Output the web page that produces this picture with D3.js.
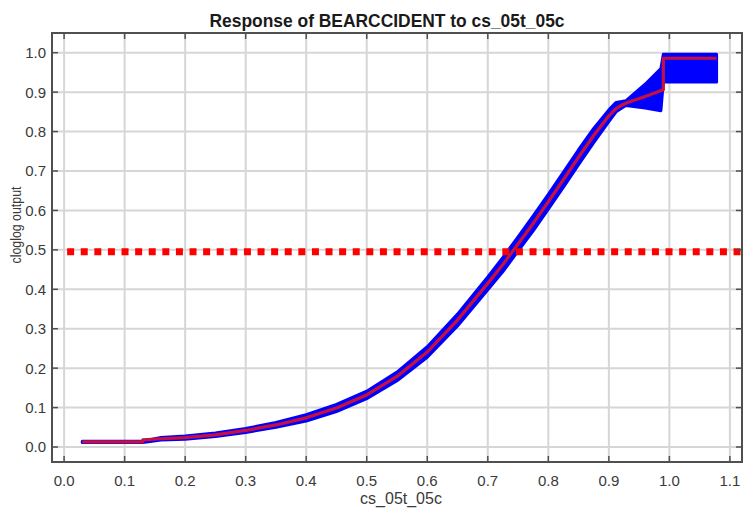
<!DOCTYPE html>
<html>
<head>
<meta charset="utf-8">
<script src="https://cdn.jsdelivr.net/npm/d3@7"></script>
<style>
  html, body { margin: 0; padding: 0; background: #ffffff; }
  svg { display: block; }
  text { font-family: "Liberation Sans", Arial, sans-serif; }
</style>
</head>
<body>
<svg id="chart" width="745" height="510"></svg>
<script>
// Fitted response curve (x = cs_05t_05c, y = cloglog output)
const fitX = [0.03, 0.13, 0.13, 0.16, 0.2, 0.25, 0.3, 0.35, 0.4, 0.45, 0.5, 0.55, 0.6, 0.65, 0.7, 0.725, 0.75, 0.775, 0.8, 0.825, 0.85, 0.875, 0.9, 0.912, 0.92, 0.93, 0.96, 0.99, 0.99, 1.078];
const fitY = [0.013, 0.013, 0.018, 0.021, 0.024, 0.031, 0.042, 0.056, 0.074, 0.099, 0.132, 0.179, 0.241, 0.322, 0.415, 0.463, 0.515, 0.567, 0.622, 0.678, 0.735, 0.79, 0.84, 0.858, 0.866, 0.873, 0.889, 0.906, 0.986, 0.986];

// Confidence band around the fitted curve
const bandX  = [0.03, 0.13, 0.16, 0.2, 0.25, 0.3, 0.35, 0.4, 0.45, 0.5, 0.55, 0.6, 0.65, 0.7, 0.725, 0.75, 0.775, 0.8, 0.825, 0.85, 0.875, 0.9, 0.912, 0.928, 0.96, 0.986, 0.99, 1.078];
const bandLo = [0.0115, 0.0115, 0.018, 0.020, 0.0265, 0.037, 0.050, 0.066, 0.090, 0.1225, 0.168, 0.2275, 0.307, 0.3985, 0.445, 0.497, 0.548, 0.603, 0.659, 0.716, 0.772, 0.825, 0.850, 0.866, 0.860, 0.853, 0.926, 0.926];
const bandHi = [0.0145, 0.0145, 0.024, 0.028, 0.0355, 0.047, 0.062, 0.082, 0.108, 0.1415, 0.190, 0.2545, 0.337, 0.4315, 0.481, 0.533, 0.586, 0.641, 0.697, 0.754, 0.808, 0.855, 0.874, 0.878, 0.920, 0.960, 0.996, 0.996];

// Threshold line
const threshold = 0.495;

// Axis ticks
const xTicks = [0.0, 0.1, 0.2, 0.3, 0.4, 0.5, 0.6, 0.7, 0.8, 0.9, 1.0, 1.1];
const yTicks = [0.0, 0.1, 0.2, 0.3, 0.4, 0.5, 0.6, 0.7, 0.8, 0.9, 1.0];

const titleText = "Response of BEARCCIDENT to cs_05t_05c";
const xLabelText = "cs_05t_05c";
const yLabelText = "cloglog output";

const svg = d3.select("#chart");
const pLeft = 52, pRight = 742, pTop = 33, pBottom = 462;

const x = d3.scaleLinear().domain([-0.02, 1.12]).range([pLeft, pRight]);
const y = d3.scaleLinear().domain([-0.038, 1.05]).range([pBottom, pTop]);

// Grid
const grid = svg.append("g").attr("stroke", "#d6d6d6").attr("stroke-width", 2);
grid.selectAll("line.vx").data(xTicks).join("line")
  .attr("x1", d => x(d)).attr("x2", d => x(d))
  .attr("y1", pTop).attr("y2", pBottom);
grid.selectAll("line.hy").data(yTicks).join("line")
  .attr("x1", pLeft).attr("x2", pRight)
  .attr("y1", d => y(d)).attr("y2", d => y(d));

svg.append("clipPath").attr("id", "plotclip")
  .append("rect").attr("x", pLeft).attr("y", pTop)
  .attr("width", pRight - pLeft).attr("height", pBottom - pTop);

const plot = svg.append("g").attr("clip-path", "url(#plotclip)");

// Band
const bandData = bandX.map((v, i) => ({ x: v, lo: bandLo[i], hi: bandHi[i] }));
const area = d3.area().x(d => x(d.x)).y0(d => y(d.lo)).y1(d => y(d.hi));
plot.append("path")
  .attr("d", area(bandData))
  .attr("fill", "#0000ff")
  .attr("stroke", "#0000ff")
  .attr("stroke-width", 3)
  .attr("stroke-linejoin", "round");

// Threshold dotted line
plot.append("line")
  .attr("x1", x(0.005)).attr("x2", x(1.12))
  .attr("y1", y(threshold)).attr("y2", y(threshold))
  .attr("stroke", "#ff0000")
  .attr("stroke-width", 7)
  .attr("stroke-dasharray", "7 6.6");

// Fitted curve
const fitData = fitX.map((v, i) => ({ x: v, y: fitY[i] }));
const line = d3.line().x(d => x(d.x)).y(d => y(d.y));
plot.append("path")
  .attr("d", line(fitData))
  .attr("fill", "none")
  .attr("stroke", "#c8103e")
  .attr("stroke-width", 3.2)
  .attr("stroke-linejoin", "round");

// Frame
svg.append("rect")
  .attr("x", pLeft).attr("y", pTop)
  .attr("width", pRight - pLeft).attr("height", pBottom - pTop)
  .attr("fill", "none").attr("stroke", "#505050").attr("stroke-width", 2);

// Inward tick marks on all four sides
const tickLen = 6;
const ticks = svg.append("g").attr("stroke", "#505050").attr("stroke-width", 1.5);
ticks.selectAll("line.xb").data(xTicks).join("line")
  .attr("x1", d => x(d)).attr("x2", d => x(d)).attr("y1", pBottom).attr("y2", pBottom - tickLen);
ticks.selectAll("line.xt").data(xTicks).join("line")
  .attr("x1", d => x(d)).attr("x2", d => x(d)).attr("y1", pTop).attr("y2", pTop + tickLen);
ticks.selectAll("line.yl").data(yTicks).join("line")
  .attr("x1", pLeft).attr("x2", pLeft + tickLen).attr("y1", d => y(d)).attr("y2", d => y(d));
ticks.selectAll("line.yr").data(yTicks).join("line")
  .attr("x1", pRight).attr("x2", pRight - tickLen).attr("y1", d => y(d)).attr("y2", d => y(d));

// Tick labels
const fmt = d3.format(".1f");
svg.append("g").selectAll("text").data(xTicks).join("text")
  .attr("x", d => x(d)).attr("y", 486)
  .attr("text-anchor", "middle")
  .attr("font-size", 15).attr("fill", "#3a3a3a")
  .text(d => fmt(d));
svg.append("g").selectAll("text").data(yTicks).join("text")
  .attr("x", 46).attr("y", d => y(d)).attr("dy", "0.36em")
  .attr("text-anchor", "end")
  .attr("font-size", 15).attr("fill", "#3a3a3a")
  .text(d => fmt(d));

// Title and axis labels
svg.append("text")
  .attr("x", 387).attr("y", 27)
  .attr("text-anchor", "middle")
  .attr("font-size", 17.5).attr("font-weight", "bold").attr("fill", "#1a1a1a")
  .attr("textLength", 355).attr("lengthAdjust", "spacingAndGlyphs")
  .text(titleText);
svg.append("text")
  .attr("x", 401).attr("y", 504)
  .attr("text-anchor", "middle")
  .attr("font-size", 16).attr("fill", "#3a3a3a")
  .text(xLabelText);
svg.append("text")
  .attr("transform", "translate(21,225) rotate(-90)")
  .attr("text-anchor", "middle")
  .attr("font-size", 14).attr("fill", "#3a3a3a")
  .attr("textLength", 77).attr("lengthAdjust", "spacingAndGlyphs")
  .text(yLabelText);
</script>
</body>
</html>
